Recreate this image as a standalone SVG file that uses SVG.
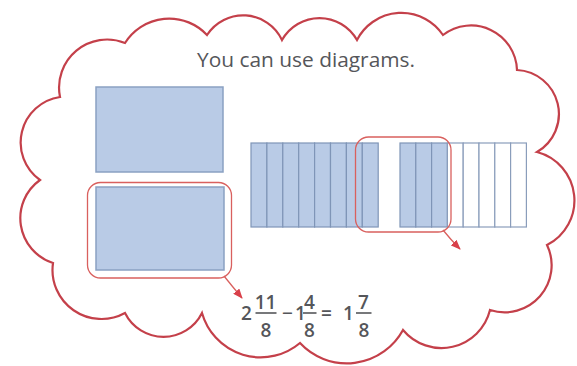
<svg xmlns="http://www.w3.org/2000/svg" width="577" height="366" viewBox="0 0 577 366">
<style>
.cloud{fill:#ffffff;stroke:#c4404a;stroke-width:2.2;stroke-linejoin:miter}
.blk{fill:#b9cbe6;stroke:#8aa1c2;stroke-width:1.5}
.col{fill:#b9cbe6;stroke:#7f95b7;stroke-width:1.2}
.colw{fill:#ffffff;stroke:#8a9dbb;stroke-width:1.2}
.ring{fill:none;stroke:#d9605e;stroke-width:1.3}
.arr{fill:none;stroke:#d9605e;stroke-width:1.3}
.t{font-family:"Open Sans","Liberation Sans",sans-serif;fill:#55565a}
.eq{font-family:"Open Sans","Liberation Sans",sans-serif;fill:#55565a;font-weight:600;font-size:19px}
.bar{stroke:#55565a;stroke-width:1.6}
</style>
<defs>
<marker id="ah" markerWidth="10" markerHeight="8" refX="9" refY="4" orient="auto" markerUnits="userSpaceOnUse">
<path d="M0,0 L10,4 L0,8 Z" fill="#d9404a"/>
</marker>
</defs>
<rect width="577" height="366" fill="#ffffff"/>
<g id="cloud">
<path class="cloud" d="M60,97 A48,48 0 0 1 125,43 A52,52 0 0 1 207,35 A43,43 0 0 1 282,40 A43,43 0 0 1 357,40 A50,50 0 0 1 443,35 A46,46 0 0 1 517,70 A44,44 0 0 1 537,152 A50,50 0 0 1 547,245 A47,47 0 0 1 490,310 A50,50 0 0 1 403,330 A64,64 0 0 1 300,343 A61,61 0 0 1 202,313 A43,43 0 0 1 125,313 A49,49 0 0 1 53,263 A47,47 0 0 1 40,180 A46,46 0 0 1 60,97 Z"/>
</g>
<g id="title">
<text class="t" x="197" y="67" font-size="20" textLength="218" lengthAdjust="spacingAndGlyphs">You can use diagrams.</text>
</g>
<g id="whole-top">
<rect class="blk" x="96" y="87" width="127" height="85"/>
</g>
<g id="whole-bottom">
<rect class="blk" x="96" y="187" width="128" height="83"/>
</g>
<g id="bar-left">
<rect class="col" x="251" y="143" width="15.9" height="84"/>
<rect class="col" x="266.9" y="143" width="15.9" height="84"/>
<rect class="col" x="282.8" y="143" width="15.9" height="84"/>
<rect class="col" x="298.7" y="143" width="15.9" height="84"/>
<rect class="col" x="314.6" y="143" width="15.9" height="84"/>
<rect class="col" x="330.5" y="143" width="15.9" height="84"/>
<rect class="col" x="346.4" y="143" width="15.9" height="84"/>
<rect class="col" x="362.3" y="143" width="15.9" height="84"/>
</g>
<g id="bar-right">
<rect class="col" x="400" y="143" width="15.8" height="84"/>
<rect class="col" x="415.8" y="143" width="15.8" height="84"/>
<rect class="col" x="431.6" y="143" width="15.8" height="84"/>
<rect class="colw" x="447.4" y="143" width="15.8" height="84"/>
<rect class="colw" x="463.2" y="143" width="15.8" height="84"/>
<rect class="colw" x="479" y="143" width="15.8" height="84"/>
<rect class="colw" x="494.8" y="143" width="15.8" height="84"/>
<rect class="colw" x="510.6" y="143" width="15.8" height="84"/>
</g>
<g id="ring-left">
<rect class="ring" x="87.5" y="182.5" width="144" height="95.5" rx="13" ry="13"/>
</g>
<g id="ring-right">
<rect class="ring" x="355.5" y="137" width="95.5" height="95" rx="13" ry="13"/>
</g>
<g id="equation">
<text class="eq" x="241" y="320">2</text>
<text class="eq" x="265.5" y="308.5" text-anchor="middle">11</text>
<line class="bar" x1="255.5" y1="313" x2="276.5" y2="313"/>
<text class="eq" x="266" y="336.5" text-anchor="middle">8</text>
<text class="eq" x="287.5" y="320" text-anchor="middle">−</text>
<text class="eq" x="295" y="320">1</text>
<text class="eq" x="309.5" y="308.5" text-anchor="middle">4</text>
<line class="bar" x1="303" y1="313" x2="316.5" y2="313"/>
<text class="eq" x="309.5" y="336.5" text-anchor="middle">8</text>
<text class="eq" x="326.5" y="320" text-anchor="middle">=</text>
<text class="eq" x="343" y="320">1</text>
<text class="eq" x="363.5" y="308.5" text-anchor="middle">7</text>
<line class="bar" x1="356" y1="313" x2="371.5" y2="313"/>
<text class="eq" x="364" y="336.5" text-anchor="middle">8</text>
</g>
<g id="connectors">
<path class="arr" d="M224,276 Q232,286 242,298" marker-end="url(#ah)"/>
<path class="arr" d="M443,230 Q451,240 460,249" marker-end="url(#ah)"/>
</g>
</svg>
